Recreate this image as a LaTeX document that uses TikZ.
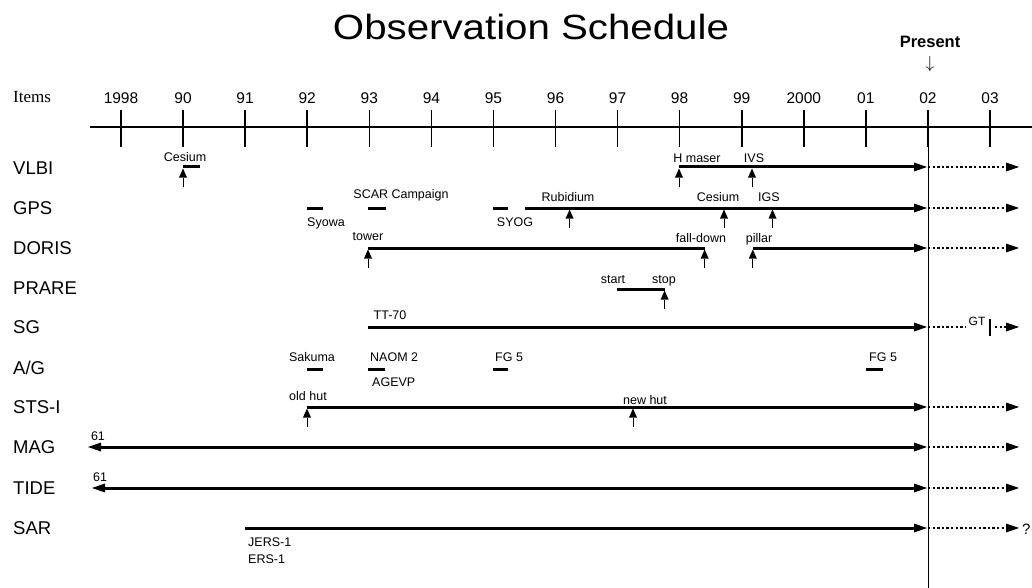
\documentclass[tikz,border=0pt]{standalone}
\usepackage{fontspec}
\setmainfont{Liberation Sans}
\newfontfamily\serifont{Liberation Serif}
\newfontfamily\titlefont[FakeStretch=1.15]{Liberation Sans}
\usetikzlibrary{arrows.meta}
\newcommand\evtmark[3]{\coordinate (#1b) at (#2,#3+20); \coordinate (#1t) at (#2,#3+1.5); \draw[evt] (#1b) -- (#1t);}
\begin{document}
\begin{tikzpicture}[x=1pt,y=-1pt,
  lab/.style={inner sep=0pt, font=\fontsize{12.5}{14}\selectfont, text height=9pt, text depth=0pt},
  rowlab/.style={inner sep=0pt, anchor=west, font=\fontsize{18.5}{20}\selectfont, text height=13.2pt, text depth=0pt},
  yr/.style={inner sep=0pt, font=\fontsize{15.5}{17}\selectfont, text height=11pt, text depth=0pt},
  mainln/.style={line width=3pt, -{Triangle[length=13pt,width=9pt,line width=0pt]}},
  twoway/.style={line width=3pt, {Triangle[length=13pt,width=9pt,line width=0pt]}-{Triangle[length=13pt,width=9pt,line width=0pt]}},
  futln/.style={line width=2.4pt, dash pattern=on 2.4pt off 2.2pt, -{Triangle[length=13pt,width=9pt,line width=0pt]}},
  futplain/.style={line width=2.4pt, dash pattern=on 2.4pt off 2.2pt},
  plainln/.style={line width=3pt},
  evt/.style={line width=0.8pt, -{Triangle[length=9pt,width=8pt,line width=0pt]}},
]
\useasboundingbox[fill=white] (0,0) rectangle (1032,588);

% title
\node[inner sep=0pt, font=\titlefont\fontsize{35}{40}\selectfont, text height=25pt, text depth=0pt] (title) at (531,27) {Observation Schedule};
\node[inner sep=0pt, font=\bfseries\fontsize{16.5}{18}\selectfont, text height=12pt, text depth=0pt] (present) at (930,42) {Present};
\node[inner sep=0pt, font=\fontsize{17}{19}\selectfont, text height=10pt, text depth=2pt] (down) at (930,65) {$\downarrow$};

% axis
\node[inner sep=0pt, anchor=west, font=\serifont\fontsize{17}{19}\selectfont, text height=11.5pt, text depth=0pt] (items) at (13,97) {Items};
\coordinate (axL) at (90,127);
\coordinate (axR) at (1032,127);
\draw[line width=1.6pt] (axL) -- (axR);
\foreach \x/\lab/\n in {121/1998/a, 183.1/90/b, 245.1/91/c, 307.2/92/d, 369.3/93/e, 431.4/94/f, 493.4/95/g, 555.5/96/h, 617.6/97/i, 679.6/98/j, 741.7/99/k, 803.8/2000/l, 865.8/01/m, 927.9/02/n, 990/03/o}{
  \coordinate (t\n u) at (\x,110);
  \coordinate (t\n d) at (\x,147);
  \draw[line width=1.6pt] (t\n u) -- (t\n d);
  \node[yr] (y\n) at (\x,98) {\lab};
}
\coordinate (pT) at (928,147);
\coordinate (pB) at (928,588);
\draw[line width=0.8pt] (pT) -- (pB);

% row labels
\node[rowlab] (rVLBI) at (13,168) {VLBI};
\node[rowlab] (rGPS) at (13,208) {GPS};
\node[rowlab] (rDORIS) at (13,248) {DORIS};
\node[rowlab] (rPRARE) at (13,288) {PRARE};
\node[rowlab] (rSG) at (13,327) {SG};
\node[rowlab] (rAG) at (13,368) {A/G};
\node[rowlab] (rSTS) at (13,407) {STS-I};
\node[rowlab] (rMAG) at (13,447) {MAG};
\node[rowlab] (rTIDE) at (13,488) {TIDE};
\node[rowlab] (rSAR) at (13,528) {SAR};

% ---------- VLBI (y=167)
\coordinate (vcA) at (183,167); \coordinate (vcB) at (200,167);
\draw[plainln] (vcA) -- (vcB);
\evtmark{vc}{183}{167}
\node[lab] (lvCes) at (185,157) {Cesium};
\coordinate (vS) at (679,167); \coordinate (vE) at (927,167); \coordinate (vF) at (1019,167);
\draw[mainln] (vS) -- (vE);
\draw[futln] (pT |- vE) -- (vF);
\evtmark{vh}{679}{167}
\evtmark{vi}{752}{167}
\node[lab] (lvH) at (697,158) {H maser};
\node[lab] (lvI) at (754,158) {IVS};

% ---------- GPS (y=208)
\coordinate (gs1) at (307,208); \coordinate (gs2) at (323,208); \draw[plainln] (gs1) -- (gs2);
\coordinate (gc1) at (368,208); \coordinate (gc2) at (386,208); \draw[plainln] (gc1) -- (gc2);
\coordinate (gy1) at (493,208); \coordinate (gy2) at (508,208); \draw[plainln] (gy1) -- (gy2);
\node[lab] (lgSy) at (326,222) {Syowa};
\node[lab] (lgSC) at (401,194) {SCAR Campaign};
\node[lab] (lgSO) at (515,222) {SYOG};
\coordinate (gS) at (525,208); \coordinate (gE) at (927,208); \coordinate (gF) at (1019,208);
\draw[mainln] (gS) -- (gE);
\draw[futln] (pT |- gE) -- (gF);
\evtmark{gr}{569.6}{208}
\evtmark{gc}{724}{208}
\evtmark{gi}{772.5}{208}
\node[lab] (lgR) at (568,197) {Rubidium};
\node[lab] (lgC) at (718,197) {Cesium};
\node[lab] (lgI) at (769,197) {IGS};

% ---------- DORIS (y=248)
\coordinate (dS) at (368,248); \coordinate (dM) at (704.6,248);
\draw[plainln] (dS) -- (dM);
\coordinate (dP) at (752.8,248); \coordinate (dE) at (927,248); \coordinate (dF) at (1019,248);
\draw[mainln] (dP) -- (dE);
\draw[futln] (pT |- dE) -- (dF);
\evtmark{dt}{368}{248}
\evtmark{df}{704.6}{248}
\evtmark{dp}{752.8}{248}
\node[lab] (ldT) at (368,236) {tower};
\node[lab] (ldF) at (701,238) {fall-down};
\node[lab] (ldP) at (759,238) {pillar};

% ---------- PRARE (y=289)
\coordinate (pS) at (617,289); \coordinate (pE) at (664.6,289);
\draw[plainln] (pS) -- (pE);
\evtmark{ps}{664.6}{289}
\node[lab] (lpS) at (613,279) {start};
\node[lab] (lpE) at (664,279) {stop};

% ---------- SG (y=327)
\coordinate (sS) at (368,327); \coordinate (sE) at (927,327);
\draw[mainln] (sS) -- (sE);
\node[lab] (lsT) at (390,315) {TT-70};
\coordinate (sD1) at (966,327);
\draw[futplain] (pT |- sE) -- (sD1);
\node[inner sep=0pt, font=\fontsize{12}{13}\selectfont, text height=8.8pt, text depth=0pt] (lsG) at (977,321) {GT};
\coordinate (sB1) at (990,319); \coordinate (sB2) at (990,336);
\draw[line width=2.4pt] (sB1) -- (sB2);
\coordinate (sD2) at (995,327); \coordinate (sF) at (1019,327);
\draw[futln] (sD2) -- (sF);

% ---------- A/G (y=369)
\coordinate (as1) at (307,369); \coordinate (as2) at (323,369); \draw[plainln] (as1) -- (as2);
\coordinate (an1) at (368,369); \coordinate (an2) at (385,369); \draw[plainln] (an1) -- (an2);
\coordinate (af1) at (493,369); \coordinate (af2) at (508,369); \draw[plainln] (af1) -- (af2);
\coordinate (ag1) at (866,369); \coordinate (ag2) at (883,369); \draw[plainln] (ag1) -- (ag2);
\node[lab] (laS) at (312,357) {Sakuma};
\node[lab, anchor=west] (laN) at (370,357) {NAOM 2};
\node[lab, anchor=west] (laA) at (372,382) {AGEVP};
\node[lab, anchor=west] (laF1) at (495,357) {FG 5};
\node[lab, anchor=west] (laF2) at (869,357) {FG 5};

% ---------- STS-I (y=407)
\coordinate (tS) at (307,407); \coordinate (tE) at (927,407); \coordinate (tF) at (1019,407);
\draw[mainln] (tS) -- (tE);
\draw[futln] (pT |- tE) -- (tF);
\evtmark{to}{307}{407}
\evtmark{tn}{633}{407}
\node[lab] (ltO) at (308,396) {old hut};
\node[lab] (ltN) at (645,400) {new hut};

% ---------- MAG (y=447)
\coordinate (mS) at (88,447); \coordinate (mE) at (927,447); \coordinate (mF) at (1019,447);
\draw[twoway] (mS) -- (mE);
\draw[futln] (pT |- mE) -- (mF);
\node[lab] (lm61) at (98,436) {61};

% ---------- TIDE (y=488)
\coordinate (dtS) at (92,488); \coordinate (dtE) at (927,488); \coordinate (dtF) at (1019,488);
\draw[twoway] (dtS) -- (dtE);
\draw[futln] (pT |- dtE) -- (dtF);
\node[lab] (ld61) at (100,477) {61};

% ---------- SAR (y=528)
\coordinate (rS) at (245,528); \coordinate (rE) at (927,528); \coordinate (rF) at (1019,528);
\draw[mainln] (rS) -- (rE);
\draw[futln] (pT |- rE) -- (rF);
\node[lab, anchor=west] (lrJ) at (248,542) {JERS-1};
\node[lab, anchor=west] (lrE) at (248,559) {ERS-1};
\node[inner sep=0pt, anchor=west, font=\fontsize{15}{17}\selectfont, text height=10.7pt, text depth=0pt] (lrQ) at (1022,529) {?};
\end{tikzpicture}
\end{document}
